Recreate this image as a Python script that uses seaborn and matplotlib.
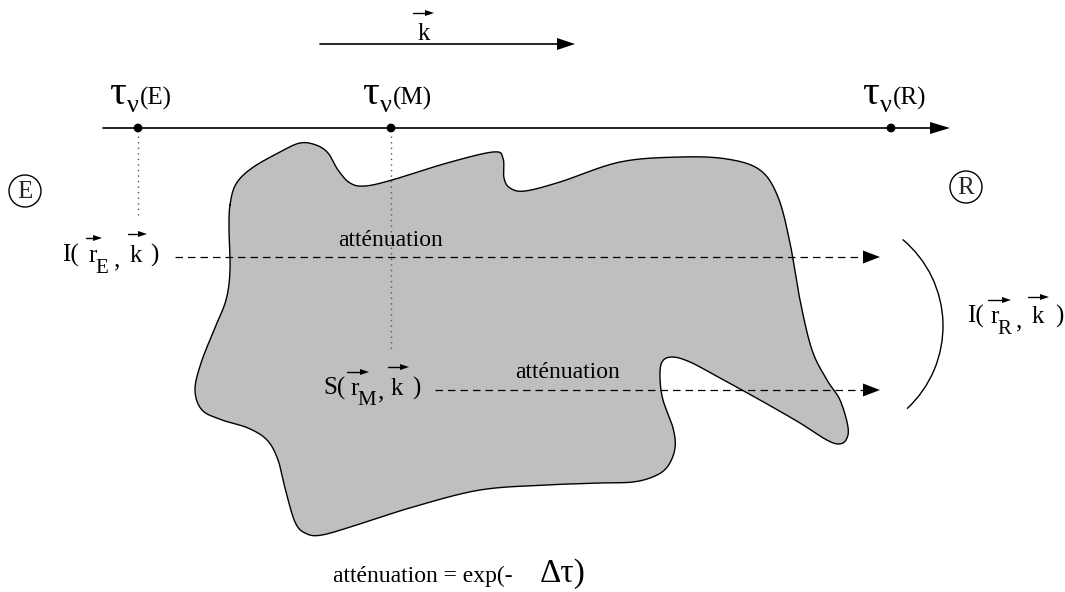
import matplotlib
matplotlib.use("Agg")
import matplotlib.pyplot as plt
from matplotlib.patches import Arc, Circle
import numpy as np
import seaborn as sns

# outline of the grey medium (image pixel coords, y grows downward)
blob_x = [230, 236, 252, 280, 300, 316, 328, 338, 350, 365, 392, 447, 493, 503, 504,
          510, 525, 560, 620, 680, 727, 760, 778, 790, 800, 812, 827, 840, 848, 846,
          838, 825, 800, 760, 720, 690, 672, 662, 660, 663, 673, 675, 668, 655, 633,
          600, 547, 480, 413, 363, 322, 305, 295, 286, 278, 267, 248, 222, 202, 195,
          201, 214, 226, 230, 229]
blob_y = [205, 184, 168, 152, 143, 145, 153, 170, 183, 186, 180, 163, 152, 158, 178,
          188, 191, 182, 162, 157, 159, 170, 197, 243, 300, 350, 380, 400, 427, 440,
          444, 439, 423, 400, 378, 362, 357, 362, 378, 400, 428, 448, 466, 476, 482,
          483, 485, 490, 507, 523, 535, 533, 522, 492, 460, 440, 428, 420, 410, 390,
          363, 330, 300, 270, 230]

# optical depth axis
tau_axis_y = 128
tau_x = [138, 391, 891]
tau_names = ["(E)", "(M)", "(R)"]
dotted_bottom = [215, 350]

# rays
ray_y = [257, 390]
ray_start = [175, 435]
ray_tip = 880


def smooth_closed(px, py, n=16):
    pts = np.column_stack([px, py]).astype(float)
    N = len(pts)
    t = np.linspace(0, 1, n, endpoint=False)[:, None]
    out = []
    for i in range(N):
        p0, p1, p2, p3 = pts[i - 1], pts[i], pts[(i + 1) % N], pts[(i + 2) % N]
        out.append(0.5 * (2 * p1 + (-p0 + p2) * t
                          + (2 * p0 - 5 * p1 + 4 * p2 - p3) * t ** 2
                          + (-p0 + 3 * p1 - 3 * p2 + p3) * t ** 3))
    out = np.vstack(out)
    return np.vstack([out, out[:1]])


def head(ax, x_tip, y, length, half):
    ax.fill([x_tip, x_tip - length, x_tip - length], [y, y - half, y + half],
            color="black", lw=0, zorder=5)


def vec(ax, x0, x1, y):
    ax.plot([x0, x1 - 6], [y, y], color="black", lw=1.0, zorder=5)
    head(ax, x1, y, 9, 3)


def txt(ax, x, y, s, fs=17):
    ax.text(x, y, s, fontsize=fs, ha="left", va="baseline", color="black")


sns.set_theme(style="white")
plt.rcParams["font.family"] = ["Liberation Serif", "DejaVu Serif"]

fig = plt.figure(figsize=(10.65, 5.92), dpi=100)
ax = fig.add_axes([0, 0, 1, 1])

# medium
outline = smooth_closed(blob_x, blob_y)
ax.fill(outline[:, 0], outline[:, 1], color="#bfbfbf", lw=0, zorder=1)
sns.lineplot(x=outline[:, 0], y=outline[:, 1], sort=False, estimator=None,
             color="black", lw=1.0, ax=ax, zorder=2)

# k direction arrow at the top
ax.plot([320, 558], [44, 44], color="black", lw=1.2)
head(ax, 575, 44, 18, 6)
txt(ax, 418, 40, "k", 18)
vec(ax, 413, 434, 13)

# tau axis
ax.plot([103, 932], [tau_axis_y, tau_axis_y], color="black", lw=1.2)
head(ax, 950, tau_axis_y, 20, 6)
sns.scatterplot(x=tau_x, y=[tau_axis_y] * 3, color="black", s=40, ax=ax,
                zorder=6, edgecolor="none")
for x, name in zip(tau_x, tau_names):
    txt(ax, x - 29, 104, "τ", 30)
    txt(ax, x - 11, 112, "ν", 19)
    txt(ax, x + 2, 105, name, 18)

# dotted projections
for x, yb in zip(tau_x[:2], dotted_bottom):
    ax.plot([x, x], [136, yb], color="#555555", lw=1.0,
            linestyle=(0, (1, 3)), zorder=3)

# circled E and R
for cx, cy, lab in [(25, 191, "E"), (966, 187, "R")]:
    ax.add_patch(Circle((cx, cy), 16, fill=False, lw=1.0, color="black"))
    ax.text(cx, cy + 1, lab, fontsize=18, ha="center", va="center")

# rays
for y, x0 in zip(ray_y, ray_start):
    ax.plot([x0, ray_tip - 16], [y, y], color="black", lw=0.9,
            linestyle=(0, (6, 4)), zorder=3)
    head(ax, ray_tip, y, 17, 6.5)

txt(ax, 338, 246, "atténuation")
txt(ax, 515, 378, "atténuation")

# I(r_E, k)
txt(ax, 62, 262, "I(", 18)
txt(ax, 88, 262, "r", 18)
txt(ax, 95, 273, "E", 15)
txt(ax, 114, 266, ",", 18)
txt(ax, 130, 262, "k", 18)
txt(ax, 150, 262, ")", 18)
vec(ax, 86, 102, 238)
vec(ax, 128, 147, 234)

# S(r_M, k)
txt(ax, 323, 395, "S(", 18)
txt(ax, 350, 395, "r", 18)
txt(ax, 357, 405, "M", 15)
txt(ax, 378, 398, ",", 18)
txt(ax, 391, 395, "k", 18)
txt(ax, 412, 395, ")", 18)
vec(ax, 347, 369, 372)
vec(ax, 388, 409, 367)

# receiver
ax.add_patch(Arc((830, 326), 226, 226, theta1=-50, theta2=47, lw=1.0, color="black"))
txt(ax, 967, 323, "I(", 18)
txt(ax, 990, 323, "r", 18)
txt(ax, 997, 334, "R", 15)
txt(ax, 1016, 327, ",", 18)
txt(ax, 1032, 323, "k", 18)
txt(ax, 1055, 323, ")", 18)
vec(ax, 988, 1011, 300)
vec(ax, 1028, 1049, 297)

# bottom formula
txt(ax, 333, 582, "atténuation = exp(-", 17)
txt(ax, 540, 582, "Δτ)", 24)

ax.set_xlim(0, 1065)
ax.set_ylim(592, 0)
ax.axis("off")
fig.savefig("out.png", dpi=100)
